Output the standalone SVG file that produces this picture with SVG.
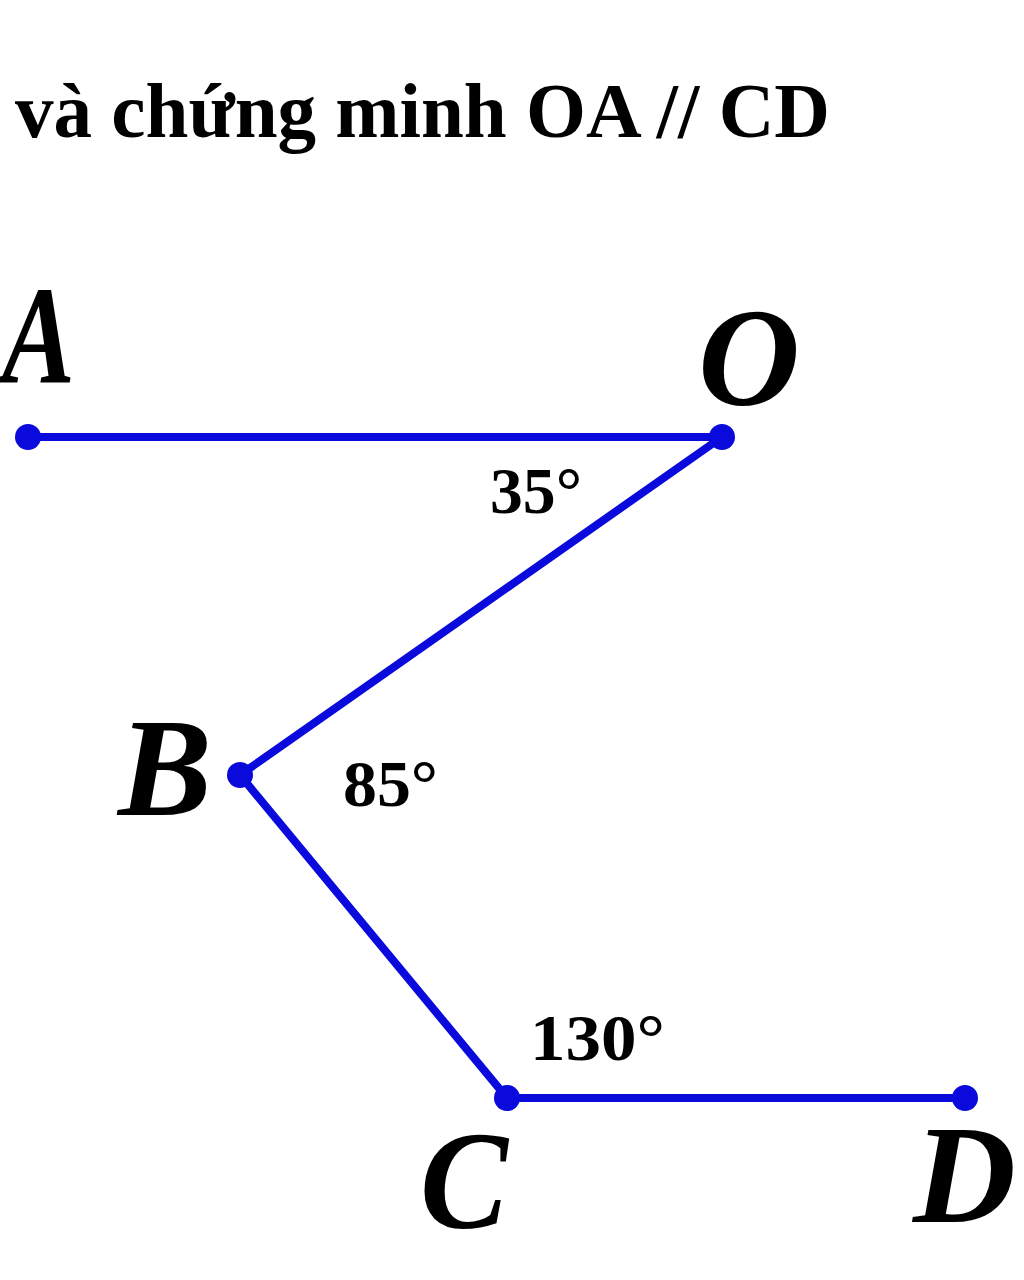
<svg xmlns="http://www.w3.org/2000/svg" width="1024" height="1280" viewBox="0 0 1024 1280">
<style>
.seg{stroke:#0a0adc;stroke-width:8;stroke-linecap:round;fill:none}
.pt{fill:#0a0adc}
.lbl{font-family:"Liberation Serif","Times New Roman",serif;font-weight:bold;font-style:italic;font-size:140px;fill:#000}
.ang{font-family:"Liberation Serif","Times New Roman",serif;font-weight:bold;font-size:66px;fill:#000}
.title{font-family:"Liberation Serif","Times New Roman",serif;font-weight:bold;font-size:78px;fill:#000}
</style>
<rect width="1024" height="1280" fill="#fff"/>
<text class="title" x="15" y="137" textLength="815" lengthAdjust="spacingAndGlyphs">và chứng minh OA // CD</text>
<g id="connectors">
<line class="seg" x1="28" y1="437" x2="722" y2="437"/>
<line class="seg" x1="722" y1="437" x2="240" y2="775"/>
<line class="seg" x1="240" y1="775" x2="507" y2="1098"/>
<line class="seg" x1="507" y1="1098" x2="965" y2="1098"/>
</g>
<g id="node-A"><circle class="pt" cx="28" cy="437" r="13"/><text class="lbl" x="2" y="383" textLength="73" lengthAdjust="spacingAndGlyphs">A</text></g>
<g id="node-O"><circle class="pt" cx="722" cy="437" r="13"/><text class="lbl" x="698" y="405" textLength="102" lengthAdjust="spacingAndGlyphs">O</text></g>
<g id="node-B"><circle class="pt" cx="240" cy="775" r="13"/><text class="lbl" x="118" y="815" textLength="94" lengthAdjust="spacingAndGlyphs">B</text></g>
<g id="node-C"><circle class="pt" cx="507" cy="1098" r="13"/><text class="lbl" x="420" y="1228" textLength="88" lengthAdjust="spacingAndGlyphs">C</text></g>
<g id="node-D"><circle class="pt" cx="965" cy="1098" r="13"/><text class="lbl" x="913" y="1222" textLength="103" lengthAdjust="spacingAndGlyphs">D</text></g>
<g id="angle-O"><text class="ang" x="490" y="513" textLength="92" lengthAdjust="spacingAndGlyphs">35°</text></g>
<g id="angle-B"><text class="ang" x="343" y="806" textLength="95" lengthAdjust="spacingAndGlyphs">85°</text></g>
<g id="angle-C"><text class="ang" x="530" y="1060" textLength="135" lengthAdjust="spacingAndGlyphs">130°</text></g>
</svg>
